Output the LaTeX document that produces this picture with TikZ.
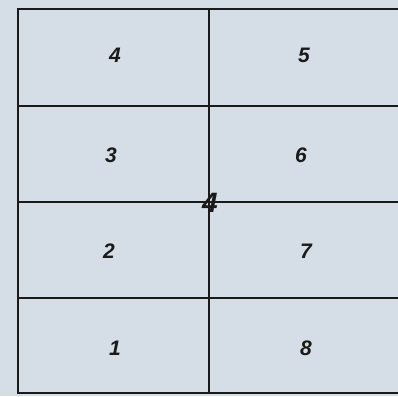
\documentclass[tikz,border=0pt]{standalone}
\usepackage{fontspec}
\setmainfont{Liberation Sans}
\definecolor{paper}{HTML}{D5DEE6}
\definecolor{ink}{HTML}{1A1A1A}
\begin{document}
\begin{tikzpicture}[x=1pt,y=-1pt,
  gridline/.style={draw=ink,line width=2pt},
  celllabel/.style={font=\fontsize{21}{21}\selectfont\bfseries\itshape,text=ink,inner sep=0pt},
  centrelabel/.style={font=\fontsize{28}{28}\selectfont\bfseries\itshape,text=ink,inner sep=0pt}]
\fill[paper] (0,0) rectangle (398,396);
\useasboundingbox (0,0) rectangle (398,396);
% grid
\draw[gridline] (398,9.5) -- (17.5,9.5) -- (17.5,393) -- (398,393);
\draw[gridline] (17.5,105.5) -- (398,105.5);
\draw[gridline] (17.5,201.5) -- (398,201.5);
\draw[gridline] (17.5,297.5) -- (398,297.5);
\draw[gridline] (209,9.5) -- (209,393);
% labels
\node[celllabel] (l4) at (115,55) {4};
\node[celllabel] (l5) at (304,55) {5};
\node[celllabel] (l3) at (111,155) {3};
\node[celllabel] (l6) at (301,155) {6};
\node[celllabel] (l2) at (109,251) {2};
\node[celllabel] (l7) at (306,251) {7};
\node[celllabel] (l1) at (115,348) {1};
\node[celllabel] (l8) at (306,348) {8};
\node[centrelabel] (c4) at (210,203) {4};
\end{tikzpicture}
\end{document}
